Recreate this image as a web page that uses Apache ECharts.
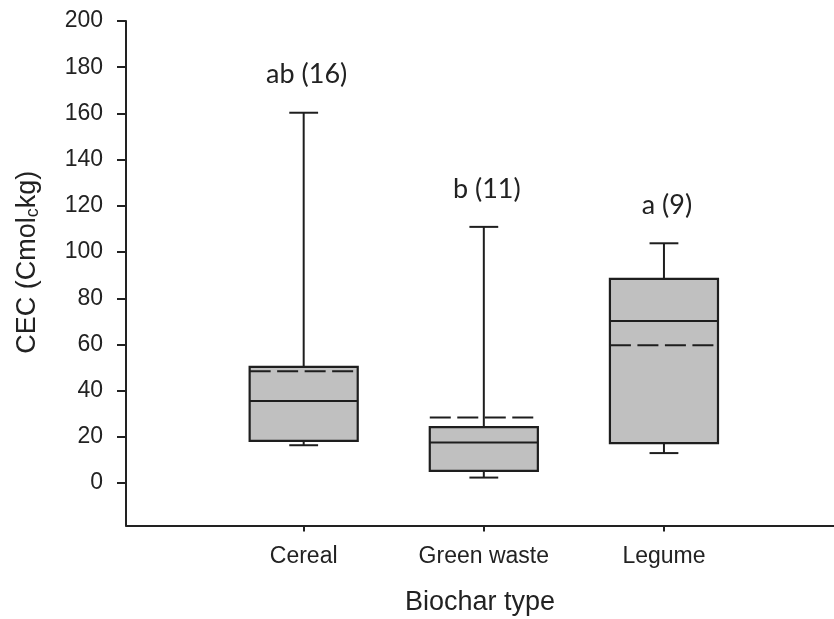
<!DOCTYPE html>
<html>
<head>
<meta charset="utf-8">
<script src="https://cdn.jsdelivr.net/npm/echarts@6/dist/echarts.min.js"></script>
<style>
html,body{margin:0;padding:0;background:#fff;}
#chart{width:834px;height:619px;}
</style>
</head>
<body>
<div id="chart"></div>
<script>
// ---- data ----
var categories = ['Cereal', 'Green waste', 'Legume'];
var whiskerLow  = [16.4, 2.4, 13.0];
var q1Values    = [18.3, 5.3, 17.3];
var medians     = [35.5, 17.6, 70.2];
var q3Values    = [50.3, 24.2, 88.4];
var whiskerHigh = [160.3, 110.9, 103.8];
var means       = [48.4, 28.4, 59.7];
var groupLabels = ['ab (16)', 'b (11)', 'a (9)'];
var yTickValues = [0, 20, 40, 60, 80, 100, 120, 140, 160, 180, 200];
var xTickValues = [1, 2, 3];

var rows = categories.map(function (c, i) {
  return [i + 1, whiskerLow[i], q1Values[i], medians[i], q3Values[i], whiskerHigh[i], means[i]];
});

var LINE = '#1e1e1e';

function renderItem(params, api) {
  var x = api.value(0);
  var lo = api.coord([x, api.value(1)]);
  var q1 = api.coord([x, api.value(2)]);
  var med = api.coord([x, api.value(3)]);
  var q3 = api.coord([x, api.value(4)]);
  var hi = api.coord([x, api.value(5)]);
  var mn = api.coord([x, api.value(6)]);
  var bw = api.size([0.6, 0])[0];
  var cw = api.size([0.16, 0])[0];
  var cx = lo[0];
  var ls = {stroke: LINE, lineWidth: 2};
  return {
    type: 'group',
    children: [
      {type: 'line', shape: {x1: cx, y1: hi[1], x2: cx, y2: q3[1]}, style: ls},
      {type: 'line', shape: {x1: cx - cw / 2, y1: hi[1], x2: cx + cw / 2, y2: hi[1]}, style: ls},
      {type: 'line', shape: {x1: cx, y1: lo[1], x2: cx, y2: q1[1]}, style: ls},
      {type: 'line', shape: {x1: cx - cw / 2, y1: lo[1], x2: cx + cw / 2, y2: lo[1]}, style: ls},
      {type: 'rect', shape: {x: cx - bw / 2, y: q3[1], width: bw, height: q1[1] - q3[1]},
        style: {fill: '#c0c0c0', stroke: LINE, lineWidth: 2.2}},
      {type: 'line', shape: {x1: cx - bw / 2, y1: med[1], x2: cx + bw / 2, y2: med[1]}, style: ls},
      {type: 'line', shape: {x1: cx - bw / 2, y1: mn[1], x2: cx + bw / 2, y2: mn[1]},
        style: {stroke: LINE, lineWidth: 2, lineDash: [21, 6.5]}},
      {type: 'text', style: {
        text: groupLabels[params.dataIndex], x: cx + 3, y: hi[1] - 38,
        align: 'center', verticalAlign: 'middle',
        fontFamily: 'Lato', fontSize: 27, fill: '#222'
      }}
    ]
  };
}

var chart = echarts.init(document.getElementById('chart'), null, {renderer: 'canvas'});
chart.setOption({
  backgroundColor: '#ffffff',
  animation: false,
  grid: {left: 126, right: 0, top: 21, bottom: 93.5, containLabel: false, outerBoundsMode: 'none'},
  xAxis: {
    type: 'value',
    min: 0.0136, max: 3.944,
    name: 'Biochar type',
    nameLocation: 'middle',
    nameGap: 64,
    nameTextStyle: {fontFamily: 'Liberation Sans', fontSize: 27, color: '#222'},
    axisLine: {show: true, onZero: false, lineStyle: {color: '#222', width: 2}},
    axisTick: {show: true, length: 6, customValues: xTickValues, lineStyle: {color: '#222', width: 2}},
    axisLabel: {
      customValues: xTickValues, margin: 20,
      fontFamily: 'Liberation Sans', fontSize: 23, color: '#222',
      formatter: function (v) { return categories[Math.round(v) - 1] || ''; }
    },
    splitLine: {show: false}
  },
  yAxis: {
    type: 'value',
    min: -18.34, max: 200,
    name: '{n|CEC (Cmol}{s|c}{n|kg)}',
    nameLocation: 'middle',
    nameGap: 84,
    nameTextStyle: {
      padding: [0, 0, 0, 22],
      rich: {
        n: {fontFamily: 'Liberation Sans', fontSize: 27, color: '#222', lineHeight: 29},
        s: {fontFamily: 'Liberation Sans', fontSize: 18, color: '#222', lineHeight: 18, padding: [16, 0, 0, 0], verticalAlign: 'bottom'}
      }
    },
    axisLine: {show: true, onZero: false, lineStyle: {color: '#222', width: 2}},
    axisTick: {show: true, length: 9, customValues: yTickValues, lineStyle: {color: '#222', width: 2}},
    axisLabel: {
      customValues: yTickValues, margin: 23,
      fontFamily: 'Liberation Sans', fontSize: 23, color: '#222'
    },
    splitLine: {show: false}
  },
  series: [{
    type: 'custom',
    renderItem: renderItem,
    data: rows,
    encode: {x: 0, y: [1, 2, 3, 4, 5, 6]},
    clip: false
  }]
});
</script>
</body>
</html>
